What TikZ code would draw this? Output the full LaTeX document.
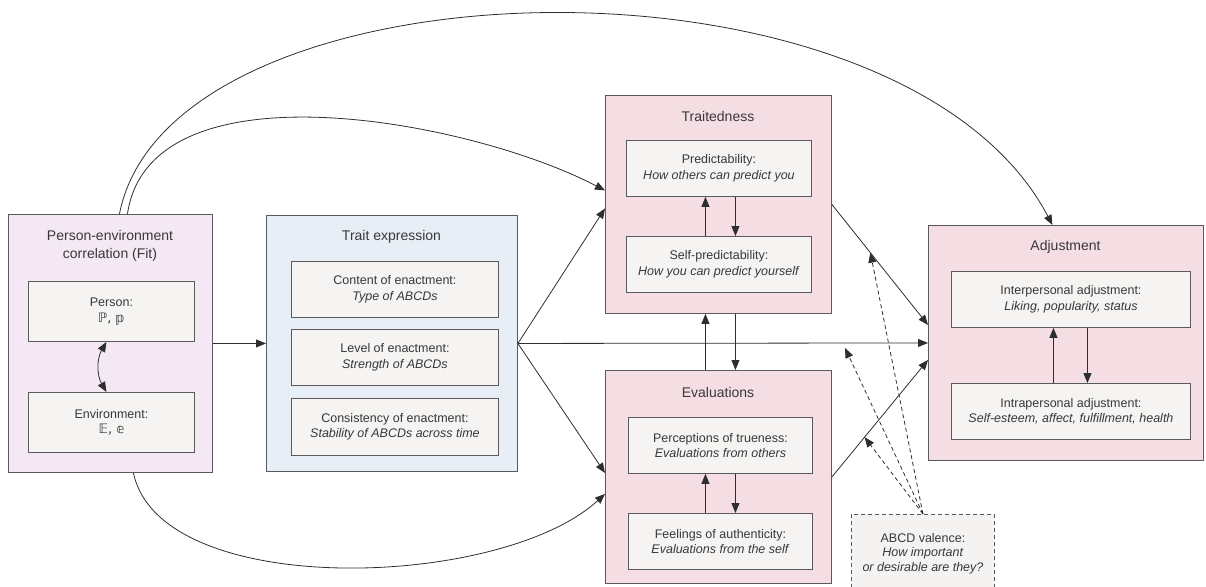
\documentclass[tikz,border=0pt]{standalone}
\usepackage{fontspec}
\setmainfont{Liberation Sans}
\newfontfamily\dejavu{DejaVu Sans}
\usetikzlibrary{arrows.meta,calc}
\definecolor{bordc}{HTML}{5A5A5A}
\definecolor{textc}{HTML}{383838}
\definecolor{arrc}{HTML}{2E2E2E}
\definecolor{pefill}{HTML}{F3E8F3}
\definecolor{tefill}{HTML}{E8EEF6}
\definecolor{pkfill}{HTML}{F5DEE3}
\definecolor{infill}{HTML}{F6F4F2}
\definecolor{abfill}{HTML}{F4F3F2}
\tikzset{
  outerbox/.style={draw=bordc, line width=0.9pt, anchor=north west, inner sep=0pt},
  innerbox/.style={draw=bordc, line width=0.9pt, fill=infill, anchor=north west, align=center,
    font=\fontsize{12.5}{15.5}\selectfont, text=textc, inner sep=0pt},
  boxtitle/.style={font=\fontsize{14}{17.5}\selectfont, text=textc, align=center, inner sep=0pt},
  arr/.style={draw=arrc, line width=0.8pt, -{Triangle[length=10pt,width=8pt]}},
  darr/.style={draw=arrc, line width=0.8pt, {Triangle[length=10pt,width=8pt]}-{Triangle[length=10pt,width=8pt]}},
  dasharr/.style={draw=arrc, line width=0.8pt, dash pattern=on 4pt off 3pt, -{Triangle[length=10pt,width=8pt]}},
}
\begin{document}
\begin{tikzpicture}[x=1pt,y=-1pt]
\useasboundingbox (0,0) rectangle (1206,586);
% outer boxes
\node[outerbox, fill=pefill, minimum width=204pt, minimum height=258pt] (pe) at (8,214) {};
\node[outerbox, fill=tefill, minimum width=251pt, minimum height=256pt] (te) at (266,215) {};
\node[outerbox, fill=pkfill, minimum width=226pt, minimum height=218pt] (tr) at (605,95) {};
\node[outerbox, fill=pkfill, minimum width=226pt, minimum height=213pt] (ev) at (605,370) {};
\node[outerbox, fill=pkfill, minimum width=275pt, minimum height=235pt] (ad) at (928,225) {};
% titles
\node[boxtitle] (pet) at (110,246) {Person-environment\\correlation (Fit)};
\node[boxtitle] (tet) at (391.5,237) {Trait expression};
\node[boxtitle] (trt) at (718,116) {Traitedness};
\node[boxtitle] (evt) at (718,392) {Evaluations};
\node[boxtitle] (adt) at (1065.5,247) {Adjustment};
% inner boxes
\node[innerbox, minimum width=166pt, minimum height=60pt] (per) at (28,281) {Person:\\{\dejavu\fontsize{13}{15.5}\selectfont ℙ, 𝕡}};
\node[innerbox, minimum width=166pt, minimum height=60pt] (env) at (28,392) {Environment:\\{\dejavu\fontsize{13}{15.5}\selectfont 𝔼, 𝕖}};
\node[innerbox, minimum width=207pt, minimum height=56pt] (con) at (291,261) {Content of enactment:\\\textit{Type of ABCDs}};
\node[innerbox, minimum width=207pt, minimum height=56pt] (lev) at (291,329) {Level of enactment:\\\textit{Strength of ABCDs}};
\node[innerbox, minimum width=207pt, minimum height=57pt] (cons) at (291,398) {Consistency of enactment:\\\textit{Stability of ABCDs across time}};
\node[innerbox, minimum width=185pt, minimum height=56pt] (pred) at (626,140) {Predictability:\\\textit{How others can predict you}};
\node[innerbox, minimum width=185pt, minimum height=56pt] (spred) at (626,236) {Self-predictability:\\\textit{How you can predict yourself}};
\node[innerbox, minimum width=184pt, minimum height=56pt] (perc) at (628,417) {Perceptions of trueness:\\\textit{Evaluations from others}};
\node[innerbox, minimum width=184pt, minimum height=56pt] (feel) at (628,513) {Feelings of authenticity:\\\textit{Evaluations from the self}};
\node[innerbox, minimum width=239pt, minimum height=56pt] (inter) at (951,271) {Interpersonal adjustment:\\\textit{Liking, popularity, status}};
\node[innerbox, minimum width=239pt, minimum height=56pt] (intra) at (951,383) {Intrapersonal adjustment:\\\textit{Self-esteem, affect, fulfillment, health}};
\node[innerbox, fill=abfill, dash pattern=on 4pt off 3pt, minimum width=143pt, minimum height=78pt, font=\fontsize{12.5}{14.5}\selectfont] (abcd) at (851,514) {ABCD valence:\\\textit{How important}\\\textit{or desirable are they?}};
% inner arrows
\draw[darr] ([xshift=-5pt]per.south) to[bend right=30] ([xshift=-5pt]env.north);
\draw[arr] ([xshift=-13.5pt]spred.north) -- ([xshift=-13.5pt]pred.south);
\draw[arr] ([xshift=16.5pt]pred.south) -- ([xshift=16.5pt]spred.north);
\draw[arr] ([xshift=-15pt]feel.north) -- ([xshift=-15pt]perc.south);
\draw[arr] ([xshift=15pt]perc.south) -- ([xshift=15pt]feel.north);
\draw[arr] ([xshift=-17.5pt]intra.north) -- ([xshift=-17.5pt]inter.south);
\draw[arr] ([xshift=16.5pt]inter.south) -- ([xshift=16.5pt]intra.north);
% between traitedness and evaluations
\draw[arr] ([xshift=-13pt]ev.north) -- ([xshift=-13pt]tr.south);
\draw[arr] ([xshift=17pt]tr.south) -- ([xshift=17pt]ev.north);
% main arrows
\draw[arr] (pe.east) -- (te.west);
\draw[arr] (te.east) -- ([yshift=-4pt]tr.west);
\draw[arr] (te.east) -- ([yshift=4pt]ev.west);
\draw[arr] (te.east) -- (ad.west);
\draw[arr] (tr.east) -- ([yshift=18pt]ad.west);
\draw[arr] (ev.east) -- ([yshift=-17pt]ad.west);
% curves
\draw[arr] ([xshift=9pt]pe.north) .. controls (170,-45) and (900,-65) .. ([xshift=-13.5pt]ad.north);
\draw[arr] ([xshift=17pt]pe.north) .. controls (150,60) and (470,120) .. ([yshift=14pt]tr.west);
\draw[arr] ([xshift=23pt]pe.south) .. controls (160,600) and (500,590) .. ([yshift=-17pt]ev.west);
% dashed arrows from ABCD valence
\coordinate (d1) at ($(tr.east)!0.4!([yshift=18pt]ad.west)$);
\coordinate (d2) at (845,348);
\coordinate (d3) at ($(ev.east)!0.34!([yshift=-17pt]ad.west)$);
\draw[dasharr] (abcd.north) -- (d1);
\draw[dasharr] (abcd.north) -- (d2);
\draw[dasharr] (abcd.north) -- (d3);
\end{tikzpicture}
\end{document}
